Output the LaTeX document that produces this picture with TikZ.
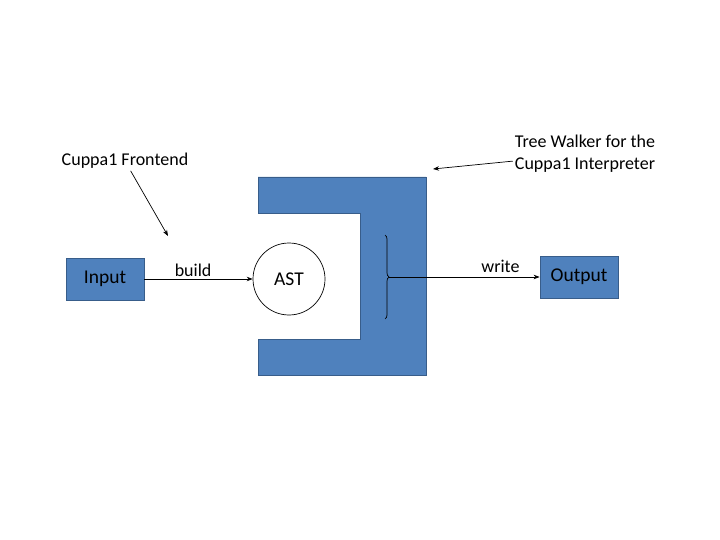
\documentclass[tikz,border=0pt]{standalone}
\usepackage{fontspec}
\setmainfont{Carlito}
\usetikzlibrary{arrows.meta,decorations.pathreplacing}
\definecolor{box_fill}{HTML}{4F81BD}
\definecolor{box_line}{HTML}{385D8A}
\tikzset{
    blockbox/.style={draw=box_line,fill=box_fill,line width=0.8pt,minimum width=78pt,minimum height=42pt,inner sep=0pt,font=\fontsize{19.5}{23}\selectfont},
    connector/.style={-{Stealth[length=6pt,width=4.5pt]},line width=0.7pt},
    note/.style={font=\fontsize{18}{22}\selectfont,inner sep=2pt},
    bracemark/.style={decorate,decoration={brace,amplitude=4pt},line width=0.7pt},
}

\begin{document}
\begin{tikzpicture}[x=1pt,y=-1pt]
  \fill[white] (0,0) rectangle (720,540);
  \useasboundingbox (0,0) rectangle (720,540);
  % tree walker
  \draw[draw=box_line,fill=box_fill,line width=0.8pt] (258,177) -- (426,177) -- (426,375) -- (258,375)
    -- (258,339) -- (360,339) -- (360,213) -- (258,213) -- cycle;
  \draw[bracemark] (385,235) -- (385,319);
  \coordinate (tip) at (389,277);
  % nodes
  \node[blockbox] (input) at (105,279) {Input};
  \node[blockbox] (output) at (579,277) {Output};
  \node[draw,circle,minimum size=72pt,inner sep=0pt,line width=0.7pt,font=\fontsize{19.5}{23}\selectfont] (ast) at (289,279) {AST};
  \draw[connector] (input) -- node[note,above,pos=0.45] {build} (ast);
  \draw[connector] (tip) -- node[note,above,pos=0.74,yshift=2pt] {write} (output);
  % notes
  \node[note] (frontend) at (125,161) {Cuppa1 Frontend};
  \coordinate (frontend_end) at (168,236);
  \draw[connector] (frontend) -- (frontend_end);
  \node[note,align=left] (walker) at (585,154) {Tree Walker for the\\Cuppa1 Interpreter};
  \coordinate (walker_end) at (433,169);
  \draw[connector] (walker) -- (walker_end);
\end{tikzpicture}
\end{document}
